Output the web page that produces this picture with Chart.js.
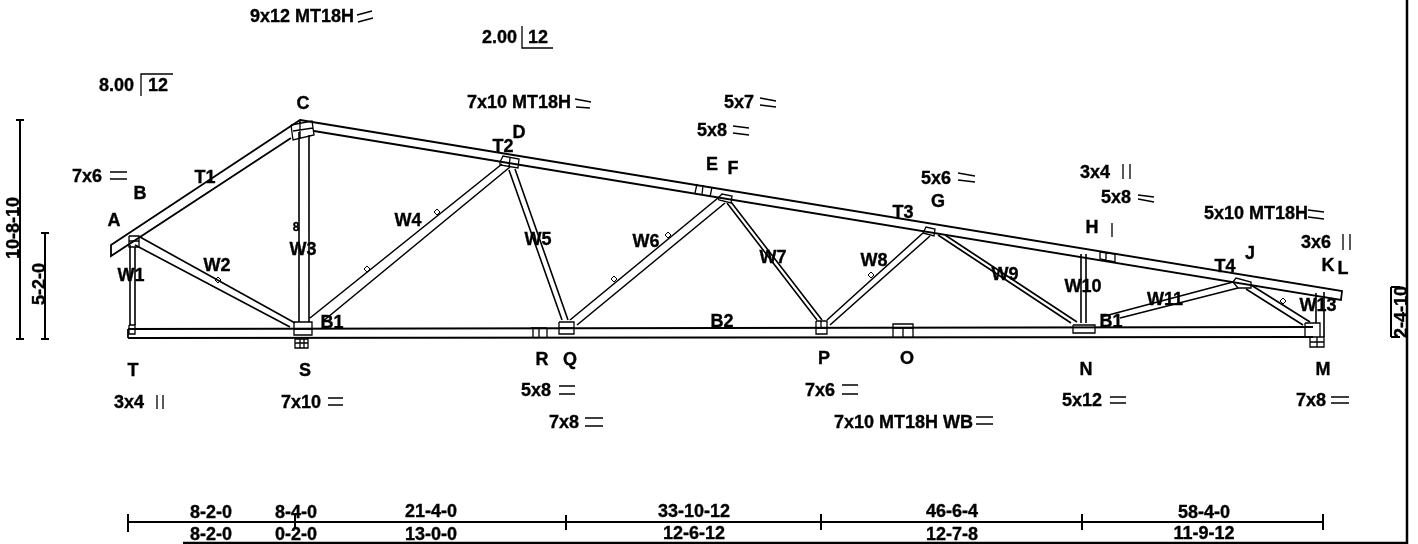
<!DOCTYPE html>
<html>
<head>
<meta charset="utf-8">
<title>Truss</title>
<script src="https://cdn.jsdelivr.net/npm/chart.js@4"></script>
<style>
html,body{margin:0;padding:0;background:#fff;overflow:hidden}
canvas{display:block}
</style>
</head>
<body>
<canvas id="truss" width="1418" height="544"></canvas>
<script>
// every polyline is x1,y1,x2,y2,... in drawing units
var chords = [
  [300,120, 111,245, 111,256, 291,138],
  [300,120, 1342,291, 1341,300, 314,131],
  [128,329, 1313,327],
  [128,338, 1313,337],
  [128,329, 128,338]
];
var webs = [
  [130,245, 130,325], [135,247, 135,325],        // W1
  [140,237, 295,323], [135,245, 290,327],        // W2
  [299,132, 299,322], [309,135, 309,322],        // W3
  [310,318, 502,164], [322,322, 510,167],        // W4
  [509,170, 562,320], [515,169, 568,320],        // W5
  [570,320, 718,198], [577,325, 725,203],        // W6
  [727,203, 817,320], [731,202, 822,320],        // W7
  [827,320, 923,233], [830,325, 930,236],        // W8
  [938,235, 1071,323], [945,235, 1077,322],      // W9
  [1081,254, 1081,323], [1086,254, 1086,323],    // W10
  [1101,317, 1233,282], [1120,318, 1238,288],    // W11
  [1251,285, 1310,322], [1246,289, 1303,325],    // W12
  [1316,293, 1316,323], [1324,292, 1324,337]     // W13
];
var plates = [
  [291,125, 312,121, 314,135, 293,140, 291,125], [300,119, 300,138], [293,131, 313,128],
  [129,236, 139,236, 139,247, 129,247, 129,236], [129,241, 139,241],
  [294,322, 312,322, 312,335, 294,335, 294,322], [294,329, 312,329],
  [295,339, 308,339, 308,348, 295,348, 295,339], [295,343, 308,343], [300,339, 300,348], [304,339, 304,348],
  [129,325, 135,325, 135,334, 129,334, 129,325], [129,329, 135,329],
  [500,162, 503,156, 519,159, 518,168, 500,165, 500,162], [510,158, 509,167],
  [697,184, 695,193], [703,185, 702,195], [712,187, 710,197],
  [718,198, 722,194, 732,196, 731,203, 719,200, 718,198],
  [923,233, 926,227, 935,229, 934,236, 923,233],
  [1100,252, 1115,254, 1115,262, 1100,259, 1100,252], [1106,253, 1106,260],
  [1233,282, 1236,278, 1251,282, 1251,288, 1238,288, 1233,282],
  [1073,325, 1095,325, 1095,333, 1073,333, 1073,325],
  [1305,323, 1320,323, 1320,337, 1305,337, 1305,323],
  [1310,337, 1324,337, 1324,347, 1310,347, 1310,337], [1310,342, 1324,342], [1317,337, 1317,347],
  [559,322, 574,322, 574,334, 559,334, 559,322], [559,328, 574,328],
  [531,328, 547,328], [533,328, 533,337], [539,328, 539,337], [547,328, 547,337],
  [816,321, 827,321, 827,334, 816,334, 816,321], [821,321, 821,328], [816,328, 827,328],
  [893,337, 893,324, 913,324, 913,337], [893,328, 913,328], [903,328, 903,337]
];
var plateMarks = [
  [357,15, 372,11], [358,22, 373,18],
  [110,172, 127,172], [110,179, 127,179],
  [328,398, 343,398], [328,405, 343,405],
  [575,99, 591,102], [576,107, 590,108],
  [760,98, 776,101], [760,105, 776,107],
  [733,126, 749,128], [733,133, 749,135],
  [958,173, 975,176], [958,180, 975,182],
  [559,386, 575,386], [559,394, 575,394],
  [585,418, 603,418], [585,426, 603,426],
  [842,385, 858,385], [842,394, 858,394],
  [976,417, 993,417], [976,424, 993,424],
  [1138,195, 1154,197], [1138,199, 1154,202],
  [1308,210, 1324,212], [1308,217, 1324,219],
  [1110,397, 1126,397], [1110,403, 1126,403],
  [1331,397, 1349,397], [1331,403, 1349,403],
  [157,395, 157,409], [163,395, 163,409],
  [1123,164, 1123,179], [1130,164, 1130,179],
  [1343,234, 1343,250], [1350,234, 1350,250],
  [1112,223, 1112,237],
  [522,26, 522,48, 553,48],
  [141,96, 141,74, 173,74]
];
var dimLines = [
  [20,120, 20,339], [16,120, 24,120], [16,339, 24,339],
  [45,233, 45,339], [41,233, 49,233], [41,339, 49,339],
  [1391,287, 1391,337], [1391,287, 1400,287], [1391,337, 1400,337],
  [128,522, 1323,522],
  [128,514, 128,532], [295,515, 295,529], [566,515, 566,530],
  [821,514, 821,530], [1082,514, 1082,530], [1323,514, 1323,530]
];
var frameLines = [
  [1407,0, 1407,543, 183,543]
];
var braces = [[218,280], [437,212], [367,269], [668,235], [614,279], [871,275], [1283,301]];

var jointLabels = [
  ['A',114,221], ['B',140,194], ['C',303,104], ['D',519,133], ['E',712,165],
  ['F',733,169], ['G',938,202], ['H',1092,228], ['J',1250,254], ['K',1328,266],
  ['L',1343,269], ['M',1323,370], ['N',1086,370], ['O',907,359], ['P',824,359],
  ['Q',570,360], ['R',542,360], ['S',305,371], ['T',133,371]
];
var memberLabels = [
  ['T1',205,178], ['T2',503,147], ['T3',903,213], ['T4',1225,267],
  ['B1',332,323], ['B2',722,322], ['B1',1111,322],
  ['W1',131,276], ['W2',217,266], ['W3',303,250], ['W4',408,221], ['W5',538,240],
  ['W6',646,242], ['W7',773,258], ['W8',874,261], ['W9',1005,275], ['W10',1083,287],
  ['W11',1165,300], ['W13',1318,306]
];
var plateLabels = [
  ['9x12 MT18H',250,17], ['8.00',99,86], ['12',148,86], ['2.00',482,38], ['12',528,38],
  ['7x6',72,177], ['3x4',114,403], ['7x10',281,403],
  ['7x10 MT18H',467,103], ['5x7',724,103], ['5x8',697,131], ['5x6',921,179],
  ['3x4',1080,173], ['5x8',1101,198], ['5x10 MT18H',1204,214], ['3x6',1301,243],
  ['5x8',521,391], ['7x8',549,423], ['7x6',805,391], ['7x10 MT18H WB',834,423],
  ['5x12',1062,401], ['7x8',1296,401]
];
var spanLabels = [
  ['8-2-0',211,513], ['8-4-0',296,513], ['21-4-0',431,512], ['33-10-12',694,512],
  ['46-6-4',952,512], ['58-4-0',1204,513],
  ['8-2-0',211,535], ['0-2-0',296,535], ['13-0-0',431,535], ['12-6-12',694,534],
  ['12-7-8',952,535], ['11-9-12',1204,534]
];
var heightLabels = [
  ['10-8-10',14,228], ['5-2-0',40,284], ['2-4-10',1402,312]
];

function toPoints(lines){
  var pts = [];
  lines.forEach(function(l){
    for(var i = 0; i < l.length; i += 2){
      pts.push({x: l[i], y: l[i+1]});
    }
    pts.push({x: NaN, y: NaN});
  });
  return pts;
}

function lineSet(lines, width){
  return {
    type: 'scatter',
    data: toPoints(lines),
    showLine: true,
    borderColor: '#000',
    borderWidth: width,
    pointRadius: 0,
    fill: false,
    tension: 0
  };
}

var FONT = 'bold 18px "Liberation Sans", Arial, sans-serif';

var textPlugin = {
  id: 'trussText',
  afterDatasetsDraw: function(chart){
    var c = chart.ctx, sx = chart.scales.x, sy = chart.scales.y;
    function put(list, align, font, angle){
      c.save();
      c.fillStyle = '#000';
      c.strokeStyle = '#000';
      c.lineWidth = 0.35;
      c.font = font;
      c.textAlign = align;
      c.textBaseline = 'middle';
      list.forEach(function(t){
        c.save();
        c.translate(sx.getPixelForValue(t[1]), sy.getPixelForValue(t[2]));
        if(angle) c.rotate(angle);
        c.fillText(t[0], 0, 0);
        c.strokeText(t[0], 0, 0);
        c.restore();
      });
      c.restore();
    }
    put(jointLabels, 'center', FONT);
    put(memberLabels, 'center', FONT);
    put(plateLabels, 'left', FONT);
    put(spanLabels, 'center', FONT);
    put(heightLabels, 'center', FONT, -Math.PI/2);
    put([['8',296,228]], 'center', 'bold 12px "Liberation Sans", Arial, sans-serif');
  }
};

new Chart(document.getElementById('truss').getContext('2d'), {
  type: 'scatter',
  data: {
    datasets: [
      lineSet(chords, 1.8),
      lineSet(webs, 1.6),
      lineSet(plates, 1.3),
      lineSet(plateMarks, 1.3),
      lineSet(dimLines, 2),
      lineSet(frameLines, 2.5),
      {
        data: braces.map(function(b){ return {x: b[0], y: b[1]}; }),
        showLine: false,
        pointStyle: 'rectRot',
        pointRadius: 3,
        pointBackgroundColor: '#fff',
        pointBorderColor: '#000',
        pointBorderWidth: 1
      }
    ]
  },
  options: {
    responsive: false,
    animation: false,
    devicePixelRatio: 1,
    layout: {autoPadding: false, padding: 0},
    plugins: {legend: {display: false}, tooltip: {enabled: false}, title: {display: false}},
    scales: {
      x: {type: 'linear', min: 0, max: 1418, display: false},
      y: {type: 'linear', min: 0, max: 544, reverse: true, display: false}
    }
  },
  plugins: [textPlugin]
});
</script>
</body>
</html>
